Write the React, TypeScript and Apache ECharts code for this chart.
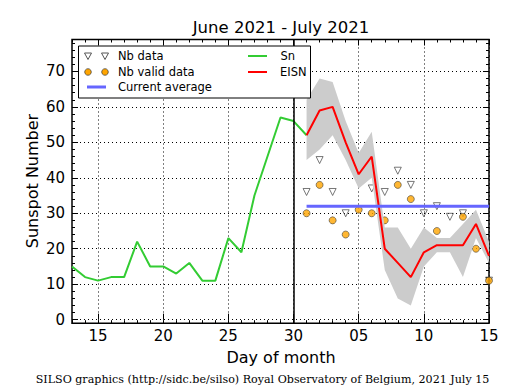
import React, { useEffect, useRef } from "react";
import * as echarts from "echarts";

// ---- data ----
const dates = [
  "2021-06-13", "2021-06-14", "2021-06-15", "2021-06-16", "2021-06-17", "2021-06-18",
  "2021-06-19", "2021-06-20", "2021-06-21", "2021-06-22", "2021-06-23", "2021-06-24",
  "2021-06-25", "2021-06-26", "2021-06-27", "2021-06-28", "2021-06-29", "2021-06-30",
  "2021-07-01", "2021-07-02", "2021-07-03", "2021-07-04", "2021-07-05", "2021-07-06",
  "2021-07-07", "2021-07-08", "2021-07-09", "2021-07-10", "2021-07-11", "2021-07-12",
  "2021-07-13", "2021-07-14", "2021-07-15",
];
const majorDates = ["2021-06-15", "2021-06-20", "2021-06-25", "2021-06-30", "2021-07-05", "2021-07-10", "2021-07-15"];
const yTicks = [0, 10, 20, 30, 40, 50, 60, 70];

// Sn: 2021-06-13 .. 2021-07-01
const snValues = [15, 12, 11, 12, 12, 22, 15, 15, 13, 16, 11, 11, 23, 19, 35, 46, 57, 56, 52];
// 2021-07-01 .. 2021-07-15
const eisnValues = [52, 59, 60, 50, 41, 46, 20, 16, 12, 19, 21, 21, 21, 27, 18];
const eisnUpper = [62, 68, 67, 56, 47, 53, 26, 26, 20, 26, 23, 23, 27, 31, 22];
const eisnLower = [45, 48, 52, 45, 37, 40, 14, 6, 4, 15, 19, 19, 12, 23, 16];
const nbData = [36, 45, 36, 30, 39, 37, 36, 42, 38, 30, 32, 29, 30, 24, 11];
const nbValidData = [30, 38, 28, 24, 31, 30, 28, 38, 34, 23, 25, 21, 29, 20, 11];
const currentAverage = 32;
const verticalDate = "2021-06-30";
const forecastStartDate = "2021-07-01";

const Y_MIN = -1;
const Y_MAX = 79;

export default function App() {
  const ref = useRef<HTMLDivElement>(null);

  useEffect(() => {
    if (!ref.current) return;
    const chart = echarts.init(ref.current, null, { renderer: "svg" });

    const start = dates.indexOf(forecastStartDate);
    const pad = (arr: (number | null)[], s: number) =>
      dates.map((_, i) => (i >= s && i - s < arr.length ? arr[i - s] : null));

    const yCats: string[] = [];
    for (let v = Y_MIN; v <= Y_MAX; v++) yCats.push(String(v));

    const isMajorX = (v: string) => majorDates.indexOf(v) >= 0;
    const isMajorY = (v: string) => yTicks.indexOf(Number(v)) >= 0;
    const isMinorY = (v: string) => Number(v) % 2 === 0;

    const G = { left: 72, top: 39.5, width: 417, height: 283.7 };
    const FONT = "DejaVu Sans";
    const tickStyle = { color: "#000", width: 1 };
    const gridLine = { color: "#000", width: 1, type: [1, 3] as any };

    const xDeco = (gridIndex: number, position: string, fn: (v: string) => boolean, len: number, extra: any = {}) => ({
      type: "category",
      gridIndex,
      position,
      data: dates,
      boundaryGap: false,
      axisLine: { show: false },
      axisTick: { show: true, inside: true, length: len, interval: (_i: number, v: string) => fn(v), lineStyle: tickStyle },
      axisLabel: { show: false },
      splitLine: { show: false },
      ...extra,
    });
    const yDeco = (gridIndex: number, position: string, fn: (v: string) => boolean, len: number, extra: any = {}) => ({
      type: "category",
      gridIndex,
      position,
      data: yCats,
      boundaryGap: false,
      axisLine: { show: false },
      axisTick: { show: true, inside: true, length: len, interval: (_i: number, v: string) => fn(v), lineStyle: tickStyle },
      axisLabel: { show: false },
      splitLine: { show: false },
      ...extra,
    });

    const diff = eisnUpper.map((u, i) => u - eisnLower[i]);

    const triPts = (x: number, y: number) => [
      [x - 3.5, y - 3],
      [x + 3.5, y - 3],
      [x, y + 3.5],
    ];
    const LZ = { z: 100, zlevel: 1 };

    const staticGraphics: any[] = [
      {
        type: "text",
        x: 281,
        y: 27,
        style: { text: "June 2021 - July 2021", font: `16.5px ${FONT}`, fill: "#000", align: "center", verticalAlign: "middle" },
      },
      {
        type: "text",
        x: 32,
        y: 181,
        rotation: Math.PI / 2,
        style: { text: "Sunspot Number", font: `16px ${FONT}`, fill: "#000", align: "center", verticalAlign: "middle" },
      },
      {
        type: "text",
        x: 281,
        y: 357,
        style: { text: "Day of month", font: `16px ${FONT}`, fill: "#000", align: "center", verticalAlign: "middle" },
      },
      {
        type: "text",
        x: 262.5,
        y: 379,
        style: {
          text: "SILSO graphics (http://sidc.be/silso) Royal Observatory of Belgium, 2021 July 15",
          font: `11.1px "DejaVu Serif"`,
          fill: "#000",
          align: "center",
          verticalAlign: "middle",
        },
      },
      // legend
      { type: "rect", ...LZ, shape: { x: 78.5, y: 46, width: 232, height: 52 }, style: { fill: "#fff", stroke: "#000", lineWidth: 1 } },
      { type: "polygon", ...LZ, shape: { points: triPts(88, 56) }, style: { fill: "none", stroke: "#555", lineWidth: 1 } },
      { type: "polygon", ...LZ, shape: { points: triPts(105, 56) }, style: { fill: "none", stroke: "#555", lineWidth: 1 } },
      { type: "circle", ...LZ, shape: { cx: 88, cy: 72, r: 3.3 }, style: { fill: "#ffa500", stroke: "#333", lineWidth: 0.7 } },
      { type: "circle", ...LZ, shape: { cx: 105, cy: 72, r: 3.3 }, style: { fill: "#ffa500", stroke: "#333", lineWidth: 0.7 } },
      { type: "line", ...LZ, shape: { x1: 87, y1: 87, x2: 106, y2: 87 }, style: { stroke: "#6666ff", lineWidth: 3 } },
      { type: "line", ...LZ, shape: { x1: 248, y1: 56, x2: 267, y2: 56 }, style: { stroke: "#33cc33", lineWidth: 2 } },
      { type: "line", ...LZ, shape: { x1: 248, y1: 72, x2: 267, y2: 72 }, style: { stroke: "#ff0000", lineWidth: 2 } },
      { type: "text", ...LZ, x: 118, y: 56, style: { text: "Nb data", font: `11.5px ${FONT}`, fill: "#000", verticalAlign: "middle" } },
      { type: "text", ...LZ, x: 118, y: 72, style: { text: "Nb valid data", font: `11.5px ${FONT}`, fill: "#000", verticalAlign: "middle" } },
      { type: "text", ...LZ, x: 118, y: 87, style: { text: "Current average", font: `11.5px ${FONT}`, fill: "#000", verticalAlign: "middle" } },
      { type: "text", ...LZ, x: 280.5, y: 56, style: { text: "Sn", font: `11.5px ${FONT}`, fill: "#000", verticalAlign: "middle" } },
      { type: "text", ...LZ, x: 280, y: 72, style: { text: "EISN", font: `11.5px ${FONT}`, fill: "#000", verticalAlign: "middle" } },
    ];

    const option: any = {
      animation: false,
      backgroundColor: "#fff",
      grid: [
        { ...G, show: true, borderColor: "#000", borderWidth: 1.5, backgroundColor: "transparent" },
        { ...G, show: false },
        { ...G, show: false },
      ],
      xAxis: [
        xDeco(0, "bottom", isMajorX, 6, {
          axisLabel: {
            show: true,
            interval: (_i: number, v: string) => isMajorX(v),
            formatter: (v: string) => v.slice(8),
            fontSize: 15,
            fontFamily: FONT,
            color: "#000",
            margin: 5,
            hideOverlap: false,
          },
          splitLine: { show: true, interval: (_i: number, v: string) => isMajorX(v), lineStyle: gridLine },
        }),
        xDeco(0, "top", isMajorX, 6),
        xDeco(1, "bottom", () => true, 3),
        xDeco(1, "top", () => true, 3),
        { type: "category", gridIndex: 2, data: dates, boundaryGap: false, show: false },
      ],
      yAxis: [
        { type: "value", gridIndex: 0, position: "right", min: Y_MIN, max: Y_MAX, show: false },
        yDeco(0, "left", isMajorY, 6, {
          splitLine: { show: true, interval: (_i: number, v: string) => isMajorY(v), lineStyle: gridLine },
        }),
        yDeco(1, "left", isMinorY, 3),
        yDeco(1, "right", isMajorY, 6),
        yDeco(2, "right", isMinorY, 3),
      ],
      series: [
        {
          name: "band-lower",
          type: "line",
          stack: "band",
          xAxisIndex: 0,
          yAxisIndex: 0,
          data: pad(eisnLower, start),
          symbol: "none",
          lineStyle: { opacity: 0 },
          silent: true,
        },
        {
          name: "band",
          type: "line",
          stack: "band",
          xAxisIndex: 0,
          yAxisIndex: 0,
          data: pad(diff, start),
          symbol: "none",
          lineStyle: { opacity: 0 },
          areaStyle: { color: "#cccccc", opacity: 1 },
          silent: true,
        },
        {
          name: "Sn",
          type: "line",
          xAxisIndex: 0,
          yAxisIndex: 0,
          data: pad(snValues, 0),
          symbol: "none",
          lineStyle: { color: "#33cc33", width: 2 },
          markLine: {
            silent: true,
            symbol: ["none", "none"],
            label: { show: false },
            lineStyle: { color: "#000", width: 1.5, type: "solid" },
            data: [{ xAxis: verticalDate }],
          },
        },
        {
          name: "EISN",
          type: "line",
          xAxisIndex: 0,
          yAxisIndex: 0,
          data: pad(eisnValues, start),
          symbol: "none",
          lineStyle: { color: "#ff0000", width: 2 },
        },
        {
          name: "Current average",
          type: "line",
          xAxisIndex: 0,
          yAxisIndex: 0,
          data: pad(eisnValues.map(() => currentAverage), start),
          symbol: "none",
          lineStyle: { color: "#6666ff", width: 3 },
        },
        {
          name: "Nb data",
          type: "scatter",
          xAxisIndex: 0,
          yAxisIndex: 0,
          clip: true,
          data: pad(nbData, start),
          symbol: "triangle",
          symbolRotate: 180,
          symbolSize: 7,
          itemStyle: { color: "rgba(0,0,0,0)", borderColor: "#555", borderWidth: 1 },
        },
        {
          name: "Nb valid data",
          type: "scatter",
          xAxisIndex: 0,
          yAxisIndex: 0,
          clip: true,
          data: pad(nbValidData, start),
          symbol: "circle",
          symbolSize: 7,
          itemStyle: { color: "#ffa500", borderColor: "#333", borderWidth: 0.7 },
        },
      ],
      graphic: staticGraphics,
    };

    chart.setOption(option);

    // y tick labels placed through the value axis scale
    const yLabelGraphics = yTicks.map((v) => {
      const py = chart.convertToPixel({ yAxisIndex: 0 }, v) as number;
      return {
        type: "text",
        z: 200,
        zlevel: 2,
        x: G.left - 7,
        y: py,
        style: { text: String(v), font: `15px ${FONT}`, fill: "#000", align: "right", verticalAlign: "middle" },
      };
    });
    chart.setOption({ graphic: [...staticGraphics, ...yLabelGraphics] });

    return () => chart.dispose();
  }, []);

  return (
    <div
      ref={ref}
      style={{ position: "fixed", left: 0, top: 0, width: 515, height: 390, background: "#fff" }}
    />
  );
}
